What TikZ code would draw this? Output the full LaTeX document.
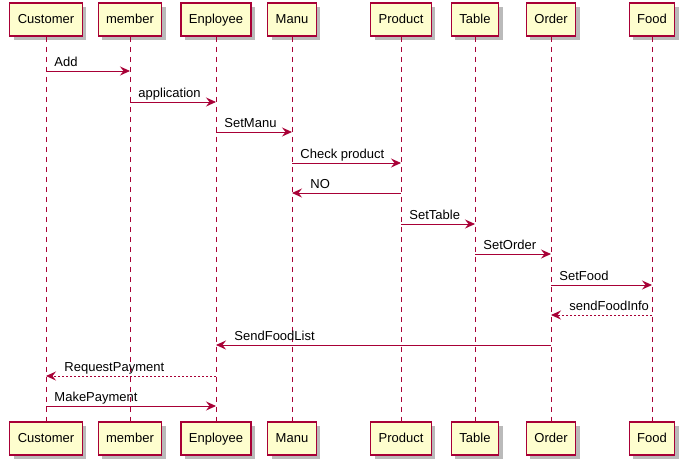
\documentclass[tikz,border=0pt]{standalone}
\usepackage{fontspec}
\setmainfont{Liberation Sans}
\usetikzlibrary{arrows.meta,shadows}
\definecolor{umlred}{HTML}{A80036}
\definecolor{umlfill}{HTML}{FEFECE}
\tikzset{
  actor/.style={draw=umlred, fill=umlfill, line width=1.3pt, rectangle,
    minimum height=33pt, inner xsep=8pt, text height=10pt, text depth=3pt,
    font=\fontsize{13}{15}\selectfont,
    drop shadow={shadow xshift=4pt, shadow yshift=-4pt, fill=black!45, opacity=0.6}},
  lifeline/.style={draw=umlred, line width=0.9pt, dash pattern=on 5pt off 5pt},
  msg/.style={draw=umlred, line width=0.9pt, -{Stealth[length=10pt, width=9pt, inset=3.5pt]}},
  reply/.style={msg, dash pattern=on 2pt off 2pt},
  txt/.style={font=\fontsize{13}{15}\selectfont, inner sep=0pt, anchor=base west, text=black}
}
\begin{document}
\begin{tikzpicture}[x=1pt, y=-1pt]
    \useasboundingbox (0,0) rectangle (685,464);
    % Nodes
    \node (customer) [actor] at (46,19.5) {Customer};
    \node (member) [actor] at (130,19.5) {member};
    \node (enployee) [actor] at (216,19.5) {Enployee};
    \node (manu) [actor] at (292,19.5) {Manu};
    \node (product) [actor] at (401,19.5) {Product};
    \node (table) [actor] at (475,19.5) {Table};
    \node (order) [actor] at (551,19.5) {Order};
    \node (food) [actor] at (652,19.5) {Food};

    \node (customer_b) [actor] at (46,438.5) {Customer};
    \node (member_b) [actor] at (130,438.5) {member};
    \node (enployee_b) [actor] at (216,438.5) {Enployee};
    \node (manu_b) [actor] at (292,438.5) {Manu};
    \node (product_b) [actor] at (401,438.5) {Product};
    \node (table_b) [actor] at (475,438.5) {Table};
    \node (order_b) [actor] at (551,438.5) {Order};
    \node (food_b) [actor] at (652,438.5) {Food};

    % Lifelines
    \draw[lifeline] (customer) -- (customer_b);
    \draw[lifeline] (member) -- (member_b);
    \draw[lifeline] (enployee) -- (enployee_b);
    \draw[lifeline] (manu) -- (manu_b);
    \draw[lifeline] (product) -- (product_b);
    \draw[lifeline] (table) -- (table_b);
    \draw[lifeline] (order) -- (order_b);
    \draw[lifeline] (food) -- (food_b);

    % Message rows
    \coordinate (m_add) at (0,71);
    \coordinate (m_app) at (0,102);
    \coordinate (m_manu) at (0,132);
    \coordinate (m_check) at (0,163);
    \coordinate (m_no) at (0,193);
    \coordinate (m_table) at (0,224);
    \coordinate (m_order) at (0,254);
    \coordinate (m_food) at (0,285);
    \coordinate (m_info) at (0,315);
    \coordinate (m_list) at (0,345);
    \coordinate (m_req) at (0,376);
    \coordinate (m_pay) at (0,406);

    % Edges
    \draw[msg] (customer |- m_add) -- (member |- m_add) node[txt, pos=0, xshift=8pt, yshift=5pt] {Add};
    \draw[msg] (member |- m_app) -- (enployee |- m_app) node[txt, pos=0, xshift=8pt, yshift=5pt] {application};
    \draw[msg] (enployee |- m_manu) -- (manu |- m_manu) node[txt, pos=0, xshift=8pt, yshift=5pt] {SetManu};
    \draw[msg] (manu |- m_check) -- (product |- m_check) node[txt, pos=0, xshift=8pt, yshift=5pt] {Check product};
    \draw[msg] (product |- m_no) -- (manu |- m_no) node[txt, pos=1, xshift=18pt, yshift=5pt] {NO};
    \draw[msg] (product |- m_table) -- (table |- m_table) node[txt, pos=0, xshift=8pt, yshift=5pt] {SetTable};
    \draw[msg] (table |- m_order) -- (order |- m_order) node[txt, pos=0, xshift=8pt, yshift=5pt] {SetOrder};
    \draw[msg] (order |- m_food) -- (food |- m_food) node[txt, pos=0, xshift=8pt, yshift=5pt] {SetFood};
    \draw[reply] (food |- m_info) -- (order |- m_info) node[txt, pos=1, xshift=18pt, yshift=5pt] {sendFoodInfo};
    \draw[msg] (order |- m_list) -- (enployee |- m_list) node[txt, pos=1, xshift=18pt, yshift=5pt] {SendFoodList};
    \draw[reply] (enployee |- m_req) -- (customer |- m_req) node[txt, pos=1, xshift=18pt, yshift=5pt] {RequestPayment};
    \draw[msg] (customer |- m_pay) -- (enployee |- m_pay) node[txt, pos=0, xshift=8pt, yshift=5pt] {MakePayment};
\end{tikzpicture}
\end{document}
